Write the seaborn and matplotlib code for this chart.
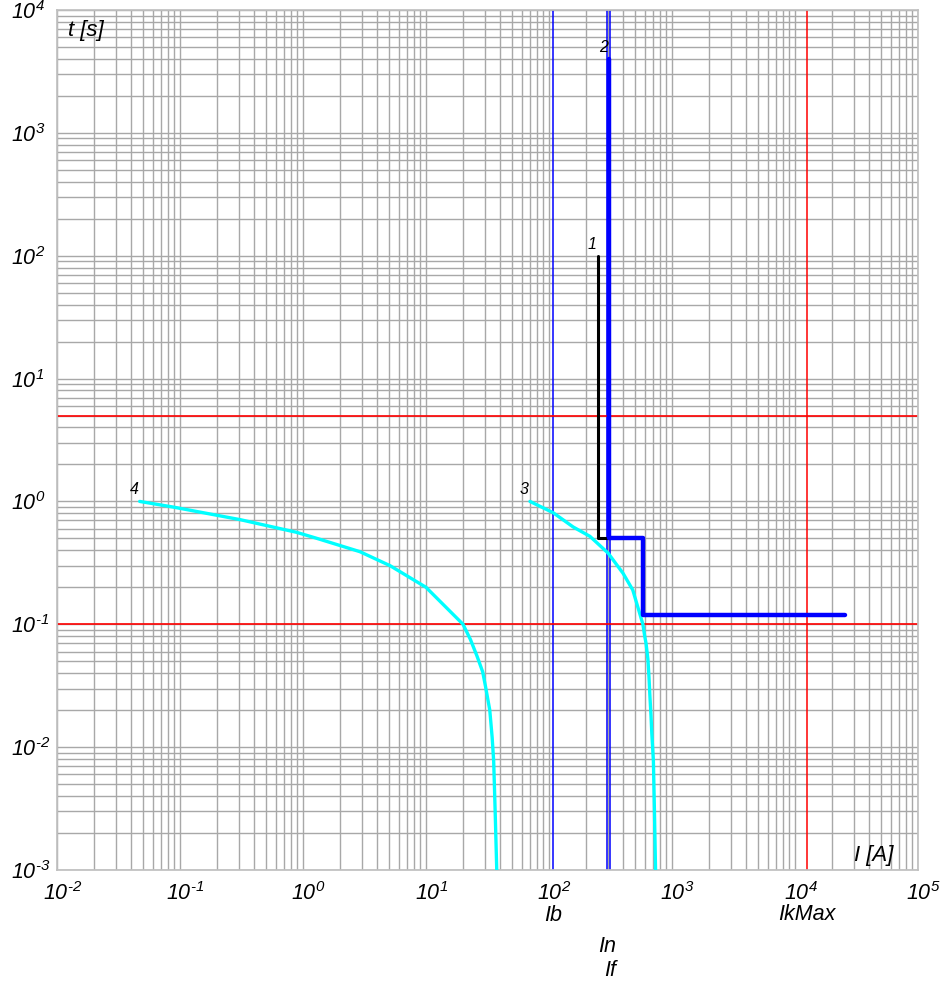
import numpy as np
import pandas as pd
import seaborn as sns
from matplotlib import pyplot as plt
from matplotlib.ticker import LogLocator, FixedLocator, FuncFormatter
from matplotlib.transforms import ScaledTranslation

# curve 1 (black), curve 2 (blue, thick), curves 3 and 4 (cyan)
c1_I = [250, 250, 310]
c1_t = [100, 0.5, 0.5]
c2_I = [310, 310, 580, 580, 25600]
c2_t = [4000, 0.5, 0.5, 0.12, 0.12]
c3_I = [70, 108, 157, 215, 302, 400, 480, 580, 600, 615, 637, 650, 660, 675, 685, 706, 720, 735]
c3_t = [1.0, 0.81, 0.62, 0.52, 0.38, 0.26, 0.19, 0.1, 0.08, 0.07, 0.052, 0.037, 0.027,
        0.018, 0.013, 0.0077, 0.003, 0.001]
c4_I = [0.047, 0.088, 0.31, 0.89, 1.3, 2.9, 5.1, 10, 20, 23, 26, 28.9, 30.5, 33, 34.5, 35.5, 36.5, 37.6]
c4_t = [1.0, 0.9, 0.71, 0.56, 0.5, 0.39, 0.30, 0.2, 0.1, 0.075, 0.055, 0.041, 0.031, 0.02,
        0.012, 0.0077, 0.003, 0.001]

# marker lines
v_names = ["Ib", "In", "If", "IkMax"]
v_vals = [108, 297, 313, 12500]
v_colors = ["#0000ff", "#0000ff", "#0000ff", "#ff0000"]
h_vals = [5, 0.1]

x_decades = [1e-2, 1e-1, 1e0, 1e1, 1e2, 1e3, 1e4, 1e5]
y_decades = [1e-3, 1e-2, 1e-1, 1e0, 1e1, 1e2, 1e3, 1e4]

sns.set_theme(style="white")
plt.rcParams['font.family'] = ['Liberation Sans', 'DejaVu Sans']
plt.rcParams['mathtext.fontset'] = 'custom'
plt.rcParams['mathtext.it'] = 'Liberation Sans:italic'
plt.rcParams['mathtext.rm'] = 'Liberation Sans:italic'
plt.rcParams['text.color'] = 'black'
plt.rcParams['xtick.color'] = 'black'
plt.rcParams['ytick.color'] = 'black'

fig = plt.figure(figsize=(9.43, 9.84), dpi=100)
ax = fig.add_axes([57/943, 1-870/984, 861/943, 860/984])
ax.set_xscale('log')
ax.set_yscale('log')
ax.set_xlim(x_decades[0], x_decades[-1])
ax.set_ylim(y_decades[0], y_decades[-1])

ax.xaxis.set_major_locator(FixedLocator(x_decades))
ax.yaxis.set_major_locator(FixedLocator(y_decades))
ax.xaxis.set_minor_locator(LogLocator(base=10, subs=np.arange(2, 10), numticks=20))
ax.yaxis.set_minor_locator(LogLocator(base=10, subs=np.arange(2, 10), numticks=20))
ax.grid(True, which='both', color='#a8a8a8', lw=1.0)
ax.set_axisbelow(True)
for s in ax.spines.values():
    s.set_color('#c0c0c0')


def dec_label(v, p):
    e = int(round(np.log10(v)))
    if e < 0:
        return r'$\mathit{10^{\text{-}%d}}$' % (-e)
    return r'$\mathit{10^{%d}}$' % e


fmt = FuncFormatter(dec_label)
ax.xaxis.set_major_formatter(fmt)
ax.yaxis.set_major_formatter(fmt)
ax.xaxis.set_minor_formatter(FuncFormatter(lambda v, p: ""))
ax.yaxis.set_minor_formatter(FuncFormatter(lambda v, p: ""))
ax.tick_params(which='both', length=0, labelsize=15.5, colors='black')
ax.tick_params(axis='x', pad=8.5)
ax.tick_params(axis='y', pad=33)
fig.canvas.draw()
for lbl in ax.get_yticklabels():
    lbl.set_horizontalalignment('left')
for lbl in ax.get_xticklabels():
    lbl.set_transform(lbl.get_transform() + ScaledTranslation(4/72, 0, fig.dpi_scale_trans))

for v, c in zip(v_vals, v_colors):
    ax.axvline(v, color=c, lw=1.1, zorder=2)
for h in h_vals:
    ax.axhline(h, color='#ff0000', lw=1.2, zorder=2)

df1 = pd.DataFrame({"I": c1_I, "t": c1_t})
df2 = pd.DataFrame({"I": c2_I, "t": c2_t})
df3 = pd.DataFrame({"I": c3_I, "t": c3_t})
df4 = pd.DataFrame({"I": c4_I, "t": c4_t})
sns.lineplot(data=df4, x="I", y="t", sort=False, estimator=None, color="#00ffff", lw=2.4, ax=ax, zorder=3)
sns.lineplot(data=df3, x="I", y="t", sort=False, estimator=None, color="#00ffff", lw=2.4, ax=ax, zorder=3)
sns.lineplot(data=df1, x="I", y="t", sort=False, estimator=None, color="black", lw=2.2, ax=ax, zorder=4)
sns.lineplot(data=df2, x="I", y="t", sort=False, estimator=None, color="#0000ff", lw=3.2, ax=ax, zorder=5)
ax.set_xlabel("")
ax.set_ylabel("")

# curve numbers
for txt, xx, yy in [("1", c1_I[0], c1_t[0]), ("2", c2_I[0], c2_t[0]),
                    ("3", c3_I[0], c3_t[0]), ("4", c4_I[0], c4_t[0])]:
    ax.annotate(txt, (xx, yy), xytext=(-1, 3), textcoords='offset points',
                ha='right', va='bottom', fontsize=11.5, style='italic')

ax.text(0.013, 0.976, "t [s]", transform=ax.transAxes, fontsize=16, style='italic',
        ha='left', va='center')
ax.text(0.971, 0.0174, "I [A]", transform=ax.transAxes, fontsize=16, style='italic',
        ha='right', va='center')

offs = {"Ib": -33, "IkMax": -32, "In": -55, "If": -72}
for n, v in zip(v_names, v_vals):
    ax.annotate(n, (v, 0), xycoords=('data', 'axes fraction'), xytext=(0, offs[n]),
                textcoords='offset points', ha='center', va='center', fontsize=15.5,
                style='italic', annotation_clip=False)

fig.savefig("out.png", dpi=100)
